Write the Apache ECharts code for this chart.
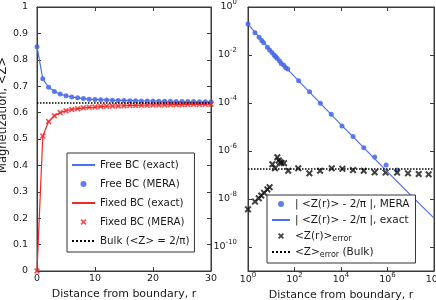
<!DOCTYPE html>
<html><head><meta charset="utf-8">
<script src="https://cdn.jsdelivr.net/npm/echarts@6/dist/echarts.min.js"></script>
<style>html,body{margin:0;padding:0;background:#fff}#c{width:436px;height:300px}</style>
</head><body><div id="c"></div>
<script>
// ---- Left panel data ----
const distance = [0,1,2,3,4,5,6,7,8,9,10,11,12,13,14,15,16,17,18,19,20,21,22,23,24,25,26,27,28,29,30];
const freeBC = [0.849,0.728,0.696,0.680,0.670,0.664,0.659,0.656,0.653,0.651,0.650,0.649,0.648,0.647,0.646,0.646,0.645,0.645,0.644,0.644,0.644,0.643,0.643,0.643,0.642,0.642,0.642,0.642,0.641,0.641,0.641];
const fixedBC = [0,0.511,0.566,0.588,0.600,0.607,0.612,0.615,0.618,0.620,0.621,0.623,0.624,0.625,0.625,0.626,0.627,0.627,0.628,0.628,0.629,0.629,0.629,0.630,0.630,0.630,0.631,0.631,0.631,0.631,0.632];
const bulkZ = 0.6366;
const bulkRange = [0, 30];

// ---- Right panel data ----
const meraR = [1,2,3,3.9,4.7,6.8,8.5,10.7,13.2,15.5,18.2,22.9,26.9,34.7,41.7,51.3,151,447,1290,3800,11000,33100,95500,282000,870000,2570000];
const meraDev = [0.195,0.0851,0.055,0.0398,0.0324,0.0209,0.0162,0.0126,0.0100,0.00851,0.00708,0.00562,0.00447,0.00372,0.00295,0.00263,8.5e-4,2.95e-4,9.8e-5,3.4e-5,1.1e-5,4.0e-6,1.38e-6,5.6e-7,2.6e-7,1.6e-7];
const exactR = [1,2,3,5,10,20,50,100,1e3,1e4,1e5,1e6,1e7,1e8];
const exactDev = [0.195,0.088,0.056,0.033,0.0135,0.0063,0.0026,0.00126,1.26e-4,1.26e-5,1.32e-6,1.35e-7,1.45e-8,1.6e-9];
const errR = [1,2,2.9,3.7,4.9,6.8,8.5,11.2,14.5,18.2,21,24,27.5,35.5,53.7,145,437,1260,4000,11500,33000,95000,280000,830000,2600000,7600000,22000000,59000000];
const errVal = [3.7e-9,7.8e-9,1.07e-8,1.4e-8,1.8e-8,2.5e-8,3.1e-8,2.8e-7,1.9e-7,5.5e-7,4.0e-7,3.4e-7,3.2e-7,3.1e-7,1.5e-7,1.9e-7,1.17e-7,1.5e-7,1.9e-7,1.8e-7,1.6e-7,1.5e-7,1.29e-7,1.26e-7,1.26e-7,1.17e-7,1.1e-7,1.07e-7];
const bulkErr = 1.78e-7;
const bulkErrRange = [1, 1e8];
const rightXTicks = [1, 1e2, 1e4, 1e6, 1e8];
const rightYTicks = [1e-10, 1e-8, 1e-6, 1e-4, 1e-2, 1];

const FONT = 'DejaVu Sans';
const BLUE = '#3a5ce6', BLUE_LINE = '#4d6ff0', RED = '#f02828', AX = '#3a3a3a', TXT = '#1a1a1a';
const XSYM = 'path://M0,2 L2,0 L5,3 L8,0 L10,2 L7,5 L10,8 L8,10 L5,7 L2,10 L0,8 L3,5 Z';

const pairs = (xs, ys) => xs.map((x, i) => [x, ys[i]]);
const expLabel = v => { const e = Math.round(Math.log10(+v)); return '{b|10}{s|' + e + '}'; };
const supRich = { b: { fontFamily: FONT, fontSize: 9.5, lineHeight: 16, color: TXT }, s: { fontFamily: FONT, fontSize: 7, lineHeight: 6, verticalAlign: 'top', color: TXT } };
const tick = cv => (cv ? { show: true, inside: true, length: 4, lineStyle: { color: AX, width: 1 }, customValues: cv }
                       : { show: true, inside: true, length: 4, lineStyle: { color: AX, width: 1 } });
function frame(extra) {
  return Object.assign({
    axisLine: { show: true, onZero: false, lineStyle: { color: AX, width: 1 } },
    axisTick: tick(),
    splitLine: { show: false },
    axisLabel: { show: false }
  }, extra);
}
const noIcon = { color: 'rgba(0,0,0,0)', borderWidth: 0, opacity: 0 };

const chart = echarts.init(document.getElementById('c'));
chart.setOption({
  animation: false,
  grid: [
    { left: 37, top: 7, width: 174, height: 264, outerBoundsMode: 'none', show: true, borderColor: AX, borderWidth: 1, backgroundColor: 'transparent' },
    { left: 248, top: 7, width: 186, height: 264, outerBoundsMode: 'none', show: true, borderColor: AX, borderWidth: 1, backgroundColor: 'transparent' }
  ],
  xAxis: [
    frame({ gridIndex: 0, type: 'value', min: 0, max: 30, interval: 10, position: 'bottom',
      axisLabel: { show: true, margin: 3, fontFamily: FONT, fontSize: 9.5, color: TXT },
      name: 'Distance from boundary, r', nameLocation: 'middle', nameGap: 16,
      nameTextStyle: { fontFamily: FONT, fontSize: 11, color: TXT, verticalAlign: 'top' } }),
    frame({ gridIndex: 0, type: 'value', min: 0, max: 30, interval: 10, position: 'top' }),
    frame({ gridIndex: 1, type: 'log', logBase: 10, min: 1, max: 1e8, position: 'bottom',
      axisTick: tick(rightXTicks),
      axisLabel: { show: true, margin: 1, customValues: rightXTicks, formatter: expLabel, rich: supRich },
      name: 'Distance from boundary, r', nameLocation: 'middle', nameGap: 16,
      nameTextStyle: { fontFamily: FONT, fontSize: 11, color: TXT, verticalAlign: 'top' } }),
    frame({ gridIndex: 1, type: 'log', logBase: 10, min: 1, max: 1e8, position: 'top', axisTick: tick(rightXTicks) })
  ],
  yAxis: [
    frame({ gridIndex: 0, type: 'value', min: 0, max: 1, interval: 0.1, position: 'left',
      axisLabel: { show: true, margin: 9, fontFamily: FONT, fontSize: 9.5, color: TXT },
      name: 'Magnetization, <Z>', nameLocation: 'middle', nameGap: 24,
      nameTextStyle: { fontFamily: FONT, fontSize: 11.5, color: TXT, padding: [0, 0, 0, 48] } }),
    frame({ gridIndex: 0, type: 'value', min: 0, max: 1, interval: 0.1, position: 'right' }),
    frame({ gridIndex: 1, type: 'log', logBase: 10, min: 1e-11, max: 1, position: 'left',
      axisTick: tick(rightYTicks),
      axisLabel: { show: true, margin: 11, customValues: rightYTicks, formatter: expLabel, rich: supRich } }),
    frame({ gridIndex: 1, type: 'log', logBase: 10, min: 1e-11, max: 1, position: 'right', axisTick: tick(rightYTicks) })
  ],
  legend: [
    { left: 67, top: 153, orient: 'vertical', backgroundColor: '#fff', borderColor: '#333', borderWidth: 1,
      padding: [5, 5, 4, 4], itemGap: 5, itemWidth: 23, itemHeight: 6, borderRadius: 0,
      textStyle: { fontFamily: FONT, fontSize: 10.3, color: TXT, lineHeight: 14 },
      data: [ { name: 'Free BC (exact)', itemStyle: noIcon }, 'Free BC (MERA)',
              { name: 'Fixed BC (exact)', itemStyle: noIcon }, 'Fixed BC (MERA)',
              { name: 'Bulk (<Z> = 2/\u03c0)', itemStyle: noIcon } ] },
    { left: 267, top: 195, orient: 'vertical', backgroundColor: '#fff', borderColor: '#333', borderWidth: 1,
      padding: [2, 6, 4, 4], itemGap: 2, itemWidth: 18, itemHeight: 6, borderRadius: 0,
      textStyle: { fontFamily: FONT, fontSize: 10.5, color: TXT, lineHeight: 14,
        rich: { n: { fontFamily: FONT, fontSize: 10.5, lineHeight: 14, color: TXT },
                sub: { fontFamily: FONT, fontSize: 8, lineHeight: 8, verticalAlign: 'bottom', color: TXT } } },
      formatter: name => name === 'Zerr' ? '{n|<Z(r)>}{sub|error}' : (name === 'ZerrBulk' ? '{n|<Z>}{sub|error}{n| (Bulk)}' : name),
      data: [ '| <Z(r)> - 2/\u03c0 |, MERA', { name: '| <Z(r)> - 2/\u03c0 |, exact', itemStyle: noIcon }, 'Zerr',
              { name: 'ZerrBulk', itemStyle: noIcon } ] }
  ],
  series: [
    { name: 'Free BC (exact)', type: 'line', xAxisIndex: 0, yAxisIndex: 0, data: pairs(distance, freeBC),
      symbol: 'none', color: BLUE_LINE, lineStyle: { color: BLUE_LINE, width: 1.2 } },
    { name: 'Free BC (MERA)', type: 'scatter', xAxisIndex: 0, yAxisIndex: 0, data: pairs(distance, freeBC),
      symbol: 'circle', symbolSize: 5, color: BLUE, itemStyle: { color: BLUE } },
    { name: 'Fixed BC (exact)', type: 'line', xAxisIndex: 0, yAxisIndex: 0, data: pairs(distance, fixedBC),
      symbol: 'none', color: RED, lineStyle: { color: RED, width: 1.2 } },
    { name: 'Fixed BC (MERA)', type: 'scatter', xAxisIndex: 0, yAxisIndex: 0, data: pairs(distance, fixedBC),
      symbol: XSYM, symbolSize: 6, color: RED, itemStyle: { color: RED } },
    { name: 'Bulk (<Z> = 2/\u03c0)', type: 'line', xAxisIndex: 0, yAxisIndex: 0,
      data: bulkRange.map(x => [x, bulkZ]), symbol: 'none', color: '#000', z: 3,
      lineStyle: { color: '#000', width: 1.5, type: 'dotted' } },
    { name: '| <Z(r)> - 2/\u03c0 |, MERA', type: 'scatter', xAxisIndex: 2, yAxisIndex: 2, data: pairs(meraR, meraDev),
      symbol: 'circle', symbolSize: 5, color: BLUE, itemStyle: { color: BLUE } },
    { name: '| <Z(r)> - 2/\u03c0 |, exact', type: 'line', xAxisIndex: 2, yAxisIndex: 2, data: pairs(exactR, exactDev),
      symbol: 'none', color: BLUE_LINE, lineStyle: { color: BLUE_LINE, width: 1.2 } },
    { name: 'Zerr', type: 'scatter', xAxisIndex: 2, yAxisIndex: 2, data: pairs(errR, errVal),
      symbol: XSYM, symbolSize: 7, color: '#111', itemStyle: { color: '#111' } },
    { name: 'ZerrBulk', type: 'line', xAxisIndex: 2, yAxisIndex: 2, data: bulkErrRange.map(x => [x, bulkErr]),
      symbol: 'none', color: '#000', lineStyle: { color: '#000', width: 1.5, type: 'dotted' } }
  ]
});
</script></body></html>
